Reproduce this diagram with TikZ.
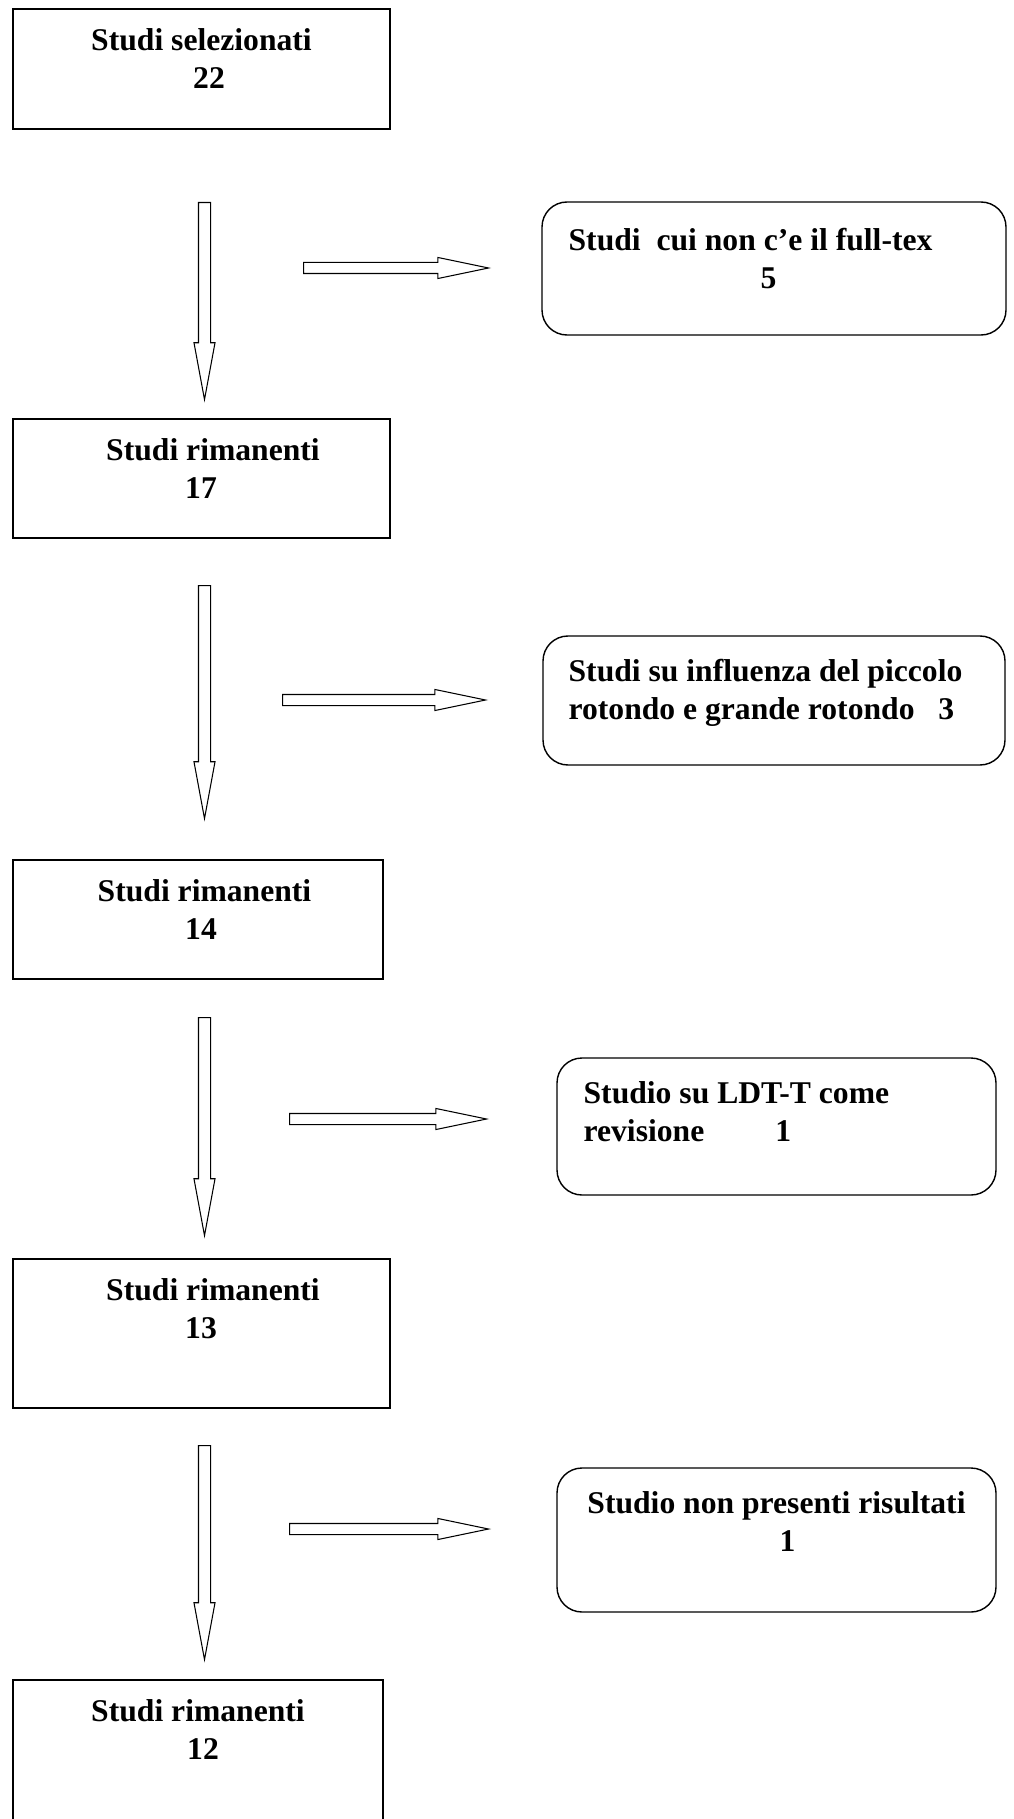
\documentclass[tikz,border=0pt]{standalone}
\usepackage{fontspec}
\setmainfont{Liberation Serif}
\usetikzlibrary{positioning, shapes.arrows}

\begin{document}
\begin{tikzpicture}[
  stage/.style={draw, line width=1pt, inner sep=0pt},
  excl/.style={draw, rounded corners=0.5cm, line width=0.8pt, inner sep=0pt},
  lbl/.style={font=\fontsize{18}{21.5}\selectfont\bfseries, inner sep=0pt},
  downarr/.style={single arrow, draw, fill=white, line width=0.6pt,
    inner xsep=0pt, inner ysep=0.11cm,
    rotate=-90, anchor=tail, minimum width=0.40cm,
    single arrow head extend=0.09cm, single arrow tip angle=21},
  rightarr/.style={single arrow, draw, fill=white, line width=0.6pt,
    inner xsep=0pt, inner ysep=0.10cm,
    anchor=tail, minimum width=0.40cm,
    single arrow head extend=0.10cm, single arrow tip angle=23.5}
]
\useasboundingbox (0,0) rectangle (20.26,-36.38);

% main column
\node[stage, minimum width=7.54cm, minimum height=2.40cm] (sel) at (4.03,-1.38) {};
\node[stage, minimum width=7.54cm, minimum height=2.38cm] (rim17) at (4.03,-9.57) {};
\node[stage, minimum width=7.40cm, minimum height=2.38cm] (rim14) at (3.96,-18.39) {};
\node[stage, minimum width=7.54cm, minimum height=2.98cm] (rim13) at (4.03,-26.67) {};
\node[stage, minimum width=7.40cm, minimum height=4.40cm] (rim12) at (3.96,-35.80) {};

\node[lbl, align=center, below=0.40cm of sel.north] (selTxt) {Studi selezionati\\\hspace*{0.3cm}22};
\node[lbl, align=center, below=0.40cm of rim17.north, xshift=0.23cm] (rim17Txt) {Studi rimanenti\\\hspace*{-0.48cm}17};
\node[lbl, align=center, below=0.40cm of rim14.north, xshift=0.13cm] (rim14Txt) {Studi rimanenti\\\hspace*{-0.14cm}14};
\node[lbl, align=center, below=0.40cm of rim13.north, xshift=0.23cm] (rim13Txt) {Studi rimanenti\\\hspace*{-0.48cm}13};
\node[lbl, align=center, below=0.40cm of rim12.north] (rim12Txt) {Studi rimanenti\\\hspace*{0.2cm}12};

% excluded studies
\node[excl, minimum width=9.28cm, minimum height=2.66cm] (ex1) at (15.48,-5.37) {};
\node[excl, minimum width=9.24cm, minimum height=2.58cm] (ex2) at (15.48,-14.01) {};
\node[excl, minimum width=8.78cm, minimum height=2.74cm] (ex3) at (15.53,-22.53) {};
\node[excl, minimum width=8.78cm, minimum height=2.88cm] (ex4) at (15.53,-30.80) {};

\node[lbl, align=center, below right=0.54cm and 0.54cm of ex1.north west] (ex1Txt) {Studi~ cui non c’e il full-tex\\\hspace*{0.72cm}5};
\node[lbl, align=left, below right=0.48cm and 0.52cm of ex2.north west] (ex2Txt) {Studi su influenza del piccolo\\rotondo e grande rotondo~~ 3};
\node[lbl, align=left, below right=0.48cm and 0.54cm of ex3.north west] (ex3Txt) {Studio su LDT-T come\\revisione\hspace{2.25em}1};
\node[lbl, align=center, below=0.48cm of ex4.north] (ex4Txt) {Studio non presenti risultati\\\hspace*{0.44cm}1};

% block arrows
\node[downarr, minimum height=3.94cm] (d1) at (4.09,-4.04) {};
\node[downarr, minimum height=4.66cm] (d2) at (4.09,-11.70) {};
\node[downarr, minimum height=4.36cm] (d3) at (4.09,-20.34) {};
\node[downarr, minimum height=4.28cm] (d4) at (4.09,-28.90) {};

\node[rightarr, minimum height=3.70cm] (r1) at (6.06,-5.36) {};
\node[rightarr, minimum height=4.06cm] (r2) at (5.64,-14.00) {};
\node[rightarr, minimum height=3.94cm] (r3) at (5.78,-22.38) {};
\node[rightarr, minimum height=3.98cm] (r4) at (5.78,-30.58) {};
\end{tikzpicture}
\end{document}
